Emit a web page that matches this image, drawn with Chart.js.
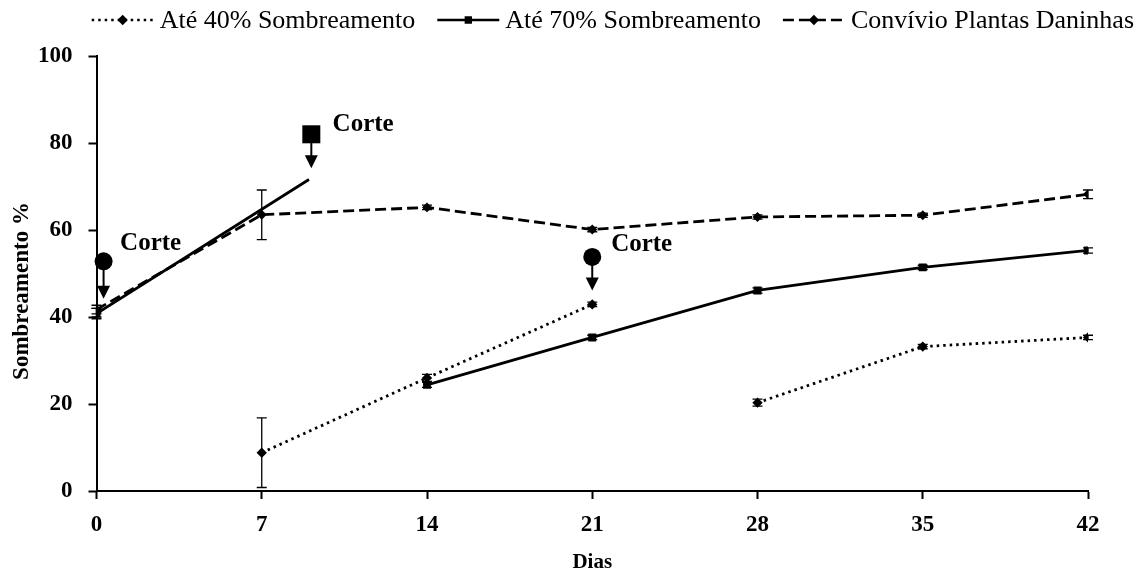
<!DOCTYPE html>
<html>
<head>
<meta charset="utf-8">
<script src="https://cdn.jsdelivr.net/npm/chart.js@4.4.0/dist/chart.umd.min.js"></script>
<style>
html,body{margin:0;padding:0;background:#fff;}
#wrap{width:1140px;height:569px;position:relative;}
</style>
</head>
<body>
<div id="wrap"><canvas id="c"></canvas></div>
<script>
// ---- data ----
const xTicks = [0, 7, 14, 21, 28, 35, 42];
const yTicks = [0, 20, 40, 60, 80, 100];
const seriesNames = ['Até 40% Sombreamento', 'Até 70% Sombreamento', 'Convívio Plantas Daninhas'];
const xTitle = 'Dias';
const yTitle = 'Sombreamento %';

const days40 = [0, 3.5, 7, 14, 21, 24.5, 28, 35, 42];
const vals40 = [41.0, null, 8.8, 26.0, 42.9, null, 20.3, 33.2, 35.3];
const err40  = [1.0, null, 8.0, 0.8, 0.5, null, 0.8, 0.5, 0.5];

const days70 = [0, 9, 11.5, 14, 21, 28, 35, 42];
const vals70 = [40.8, 71.6, null, 24.4, 35.3, 46.1, 51.4, 55.3];
const err70  = [1.2, null, null, 0.6, 0.5, 0.6, 0.5, 0.6];

const daysDan = [0, 7, 14, 21, 28, 35, 42];
const valsDan = [41.7, 63.5, 65.2, 60.1, 63.0, 63.4, 68.2];
const errDan  = [1.0, 5.7, 0.5, 0.5, 0.5, 0.5, 1.0];

// cut annotations (data coords): marker, arrow tip, label
const cutShapes  = ['circle', 'square', 'circle'];
const cutX       = [0.3, 9.1, 21.0];
const cutY       = [52.8, 82.0, 53.8];
const cutTipY    = [44.2, 74.2, 46.1];
const cutLabelX  = [1.0, 10.0, 21.8];
const cutLabelY  = [56.9, 84.3, 56.7];
const cutLabel   = 'Corte';

function pts(xs, ys){ return xs.map((x,i)=>({x:x, y:ys[i]})); }

const FONT = "'Liberation Serif', 'Times New Roman', serif";

const errorBars = {
  id: 'errorBars',
  afterDatasetsDraw(chart){
    const {ctx, scales:{x, y}} = chart;
    ctx.save();
    ctx.strokeStyle = '#000';
    ctx.lineWidth = 1.3;
    chart.data.datasets.forEach(ds => {
      if (!ds.errors) return;
      ds.data.forEach((p, i) => {
        const e = ds.errors[i];
        if (p.y == null || e == null) return;
        const px = x.getPixelForValue(p.x);
        const top = y.getPixelForValue(p.y + e);
        const bot = y.getPixelForValue(p.y - e);
        ctx.beginPath();
        ctx.moveTo(px, top); ctx.lineTo(px, bot);
        ctx.moveTo(px-5, top); ctx.lineTo(px+5, top);
        ctx.moveTo(px-5, bot); ctx.lineTo(px+5, bot);
        ctx.stroke();
      });
    });
    ctx.restore();
  }
};

const cuts = {
  id: 'cuts',
  afterDraw(chart){
    const {ctx, scales:{x, y}} = chart;
    ctx.save();
    ctx.fillStyle = '#000';
    ctx.strokeStyle = '#000';
    cutShapes.forEach((shape, i) => {
      const px = x.getPixelForValue(cutX[i]);
      const py = y.getPixelForValue(cutY[i]);
      const tip = y.getPixelForValue(cutTipY[i]);
      ctx.beginPath();
      if (shape === 'circle') {
        ctx.arc(px, py, 9, 0, Math.PI*2);
        ctx.fill();
      } else {
        ctx.fillRect(px-9, py-9, 18, 18);
      }
      ctx.lineWidth = 2;
      ctx.beginPath();
      ctx.moveTo(px, py + 8);
      ctx.lineTo(px, tip - 12);
      ctx.stroke();
      ctx.beginPath();
      ctx.moveTo(px - 6.5, tip - 13);
      ctx.lineTo(px + 6.5, tip - 13);
      ctx.lineTo(px, tip);
      ctx.closePath();
      ctx.fill();
      ctx.font = "bold 25px " + FONT;
      ctx.textAlign = 'left';
      ctx.textBaseline = 'middle';
      ctx.fillText(cutLabel, x.getPixelForValue(cutLabelX[i]), y.getPixelForValue(cutLabelY[i]));
    });
    // y-axis title
    ctx.save();
    ctx.translate(22, 291);
    ctx.rotate(-Math.PI/2);
    ctx.font = "bold 23px " + FONT;
    ctx.textAlign = 'center';
    ctx.textBaseline = 'middle';
    ctx.fillText(yTitle, 0, 0);
    ctx.restore();
    ctx.restore();
  }
};

// legend drawn on canvas, right-aligned
const customLegend = {
  id: 'customLegend',
  afterDraw(chart){
    const ctx = chart.ctx;
    ctx.save();
    ctx.font = "26px " + FONT;
    ctx.textBaseline = 'middle';
    ctx.textAlign = 'left';
    const lineLen = 62, gapText = 6, gapItem = 22, cy = 20, right = 1134;
    const widths = chart.data.datasets.map(ds => lineLen + gapText + ctx.measureText(ds.label).width);
    let xPos = right - widths.reduce((a,b)=>a+b,0) - gapItem*(widths.length-1);
    chart.data.datasets.forEach((ds, i) => {
      ctx.strokeStyle = '#000';
      ctx.lineWidth = 2.5;
      ctx.setLineDash(ds.borderDash || []);
      ctx.beginPath();
      ctx.moveTo(xPos, cy); ctx.lineTo(xPos + lineLen, cy);
      ctx.stroke();
      ctx.setLineDash([]);
      Chart.helpers.drawPoint(ctx, {pointStyle: ds.pointStyle, radius: 3.4, borderWidth: 1, rotation: 0}, xPos + lineLen/2, cy);
      ctx.fillStyle = '#000';
      ctx.fill();
      ctx.fillStyle = '#000';
      ctx.fillText(ds.label, xPos + lineLen + gapText, cy + 1);
      xPos += widths[i] + gapItem;
    });
    ctx.restore();
  }
};

const common = {
  borderColor: '#000',
  backgroundColor: '#000',
  pointBackgroundColor: '#000',
  pointBorderColor: '#000',
  borderWidth: 2.8,
  spanGaps: false,
  tension: 0
};

new Chart(document.getElementById('c'), {
  type: 'line',
  data: {
    datasets: [
      Object.assign({}, common, {
        label: seriesNames[0], data: pts(days40, vals40), errors: err40,
        borderDash: [2.5, 4], pointStyle: 'rectRot', pointRadius: 3.2
      }),
      Object.assign({}, common, {
        label: seriesNames[1], data: pts(days70, vals70), errors: err70,
        borderDash: [], pointStyle: 'rect',
        pointRadius: ctx => (ctx.raw && xTicks.includes(ctx.raw.x) ? 3.6 : 0)
      }),
      Object.assign({}, common, {
        label: seriesNames[2], data: pts(daysDan, valsDan), errors: errDan,
        borderDash: [11, 5], pointStyle: 'rectRot', pointRadius: 3
      })
    ]
  },
  options: {
    responsive: true,
    maintainAspectRatio: false,
    animation: false,
    layout: { padding: { left: 22, right: 0, top: 56, bottom: 0 } },
    plugins: {
      tooltip: { enabled: false },
      legend: { display: false }
    },
    scales: {
      x: {
        type: 'linear',
        min: 0, max: 42,
        afterBuildTicks(scale){ scale.ticks = xTicks.map(v => ({value: v})); },
        grid: { drawOnChartArea: false, color: '#000', tickLength: 8, tickWidth: 2 },
        border: { color: '#000', width: 2 },
        ticks: { color: '#000', font: { family: FONT, size: 23, weight: 'bold', lineHeight: 1 }, padding: 15 },
        title: { display: true, text: xTitle, color: '#000', font: { family: FONT, size: 21, weight: 'bold', lineHeight: 1 }, padding: {top: 0, bottom: -4} }
      },
      y: {
        min: 0, max: 100,
        afterBuildTicks(scale){ scale.ticks = yTicks.map(v => ({value: v})); },
        grid: { drawOnChartArea: false, color: '#000', tickLength: 8, tickWidth: 2 },
        border: { color: '#000', width: 2 },
        ticks: { color: '#000', font: { family: FONT, size: 23, weight: 'bold', lineHeight: 1 }, padding: 16 }
      },
      y2: {
        position: 'right',
        min: 0, max: 100,
        grid: { display: false },
        border: { display: false },
        ticks: { display: false },
        afterFit(scale){ scale.width = 52; }
      }
    }
  },
  plugins: [errorBars, cuts, customLegend]
});
</script>
</body>
</html>
